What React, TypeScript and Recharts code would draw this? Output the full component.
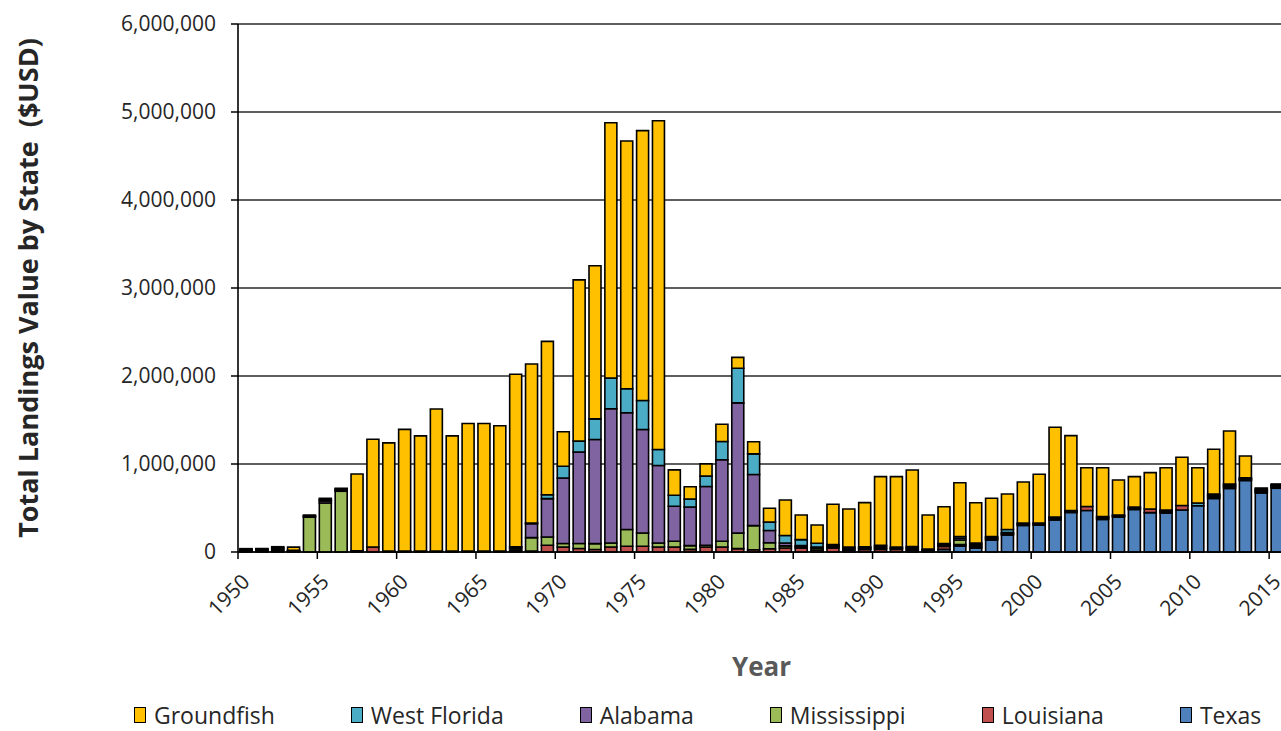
import React from 'react';
import { BarChart, Bar, XAxis, YAxis, CartesianGrid, Legend } from 'recharts';

const years = [
  1950, 1951, 1952, 1953, 1954, 1955, 1956, 1957, 1958, 1959,
  1960, 1961, 1962, 1963, 1964, 1965, 1966, 1967, 1968, 1969,
  1970, 1971, 1972, 1973, 1974, 1975, 1976, 1977, 1978, 1979,
  1980, 1981, 1982, 1983, 1984, 1985, 1986, 1987, 1988, 1989,
  1990, 1991, 1992, 1993, 1994, 1995, 1996, 1997, 1998, 1999,
  2000, 2001, 2002, 2003, 2004, 2005, 2006, 2007, 2008, 2009,
  2010, 2011, 2012, 2013, 2014, 2015,
];

const texas = [
  0, 0, 0, 0, 0, 0, 0, 0, 0, 0,
  0, 0, 0, 0, 0, 0, 0, 0, 0, 0,
  0, 0, 0, 0, 0, 0, 0, 0, 0, 0,
  0, 0, 0, 0, 0, 0, 0, 0, 0, 0,
  0, 0, 0, 0, 30000, 68000, 45000, 136000, 193000, 301000,
  305000, 364000, 449000, 472000, 370000, 398000, 483000, 447000, 443000, 477000,
  525000, 608000, 722000, 812000, 672000, 724000,
];

const louisiana = [
  10000, 10000, 15000, 5000, 0, 0, 0, 10000, 57000, 5000,
  5000, 5000, 5000, 5000, 5000, 5000, 5000, 15000, 10000, 76000,
  57000, 39000, 28000, 57000, 65000, 65000, 57000, 57000, 30000, 57000,
  57000, 38000, 25000, 37000, 45000, 45000, 20000, 45000, 20000, 28000,
  30000, 30000, 20000, 10000, 34000, 17000, 15000, 10000, 10000, 10000,
  9000, 12000, 8000, 45000, 12000, 8000, 10000, 42000, 12000, 51000,
  0, 15000, 15000, 8000, 12000, 10000,
];

const mississippi = [
  10000, 10000, 15000, 5000, 395000, 556000, 690000, 5000, 0, 5000,
  5000, 5000, 5000, 5000, 5000, 5000, 5000, 20000, 153000, 94000,
  39000, 57000, 67000, 45000, 191000, 151000, 45000, 66000, 43000, 20000,
  66000, 177000, 275000, 68000, 25000, 14000, 20000, 15000, 15000, 10000,
  15000, 9000, 15000, 8000, 12000, 51000, 15000, 10000, 9000, 9000,
  8000, 11000, 8000, 0, 11000, 8000, 9000, 0, 11000, 0,
  0, 12000, 12000, 8000, 11000, 10000,
];

const alabama = [
  8000, 8000, 10000, 5000, 10000, 25000, 15000, 0, 0, 0,
  0, 0, 0, 0, 0, 0, 0, 20000, 159000, 436000,
  745000, 1041000, 1183000, 1525000, 1326000, 1176000, 881000, 397000, 439000, 668000,
  925000, 1480000, 580000, 140000, 32000, 14000, 15000, 15000, 12000, 10000,
  15000, 9000, 15000, 8000, 11000, 20000, 14000, 10000, 9000, 9000,
  8000, 11000, 7000, 0, 11000, 7000, 9000, 0, 11000, 0,
  0, 12000, 12000, 8000, 10000, 10000,
];

const westFlorida = [
  5000, 5000, 10000, 5000, 5000, 15000, 10000, 0, 0, 0,
  0, 0, 0, 0, 0, 0, 0, 5000, 7000, 44000,
  134000, 123000, 235000, 350000, 273000, 330000, 182000, 125000, 91000, 117000,
  208000, 393000, 235000, 94000, 85000, 68000, 45000, 10000, 10000, 10000,
  15000, 9000, 13000, 8000, 10000, 20000, 13000, 10000, 34000, 0,
  0, 0, 0, 0, 0, 0, 0, 0, 0, 0,
  32000, 12000, 12000, 7000, 10000, 9000,
];

const groundfish = [
  5000, 5000, 10000, 35000, 10000, 14000, 9000, 871000, 1224000, 1230000,
  1384000, 1310000, 1615000, 1310000, 1450000, 1450000, 1425000, 1960000, 1807000, 1743000,
  392000, 1832000, 1740000, 2901000, 2816000, 3066000, 3736000, 288000, 139000, 139000,
  195000, 124000, 138000, 158000, 404000, 279000, 207000, 457000, 432000, 503000,
  781000, 799000, 869000, 386000, 418000, 611000, 458000, 434000, 404000, 466000,
  553000, 1019000, 850000, 440000, 553000, 397000, 345000, 413000, 480000, 549000,
  400000, 509000, 602000, 248000, 12000, 10000,
];

const yTicks = [0, 1000000, 2000000, 3000000, 4000000, 5000000, 6000000];

const seriesNames = ['Texas', 'Louisiana', 'Mississippi', 'Alabama', 'West Florida', 'Groundfish'];
const seriesColors: Record<string, string> = {
  Texas: '#4F81BD',
  Louisiana: '#C0504D',
  Mississippi: '#9BBB59',
  Alabama: '#8064A2',
  'West Florida': '#4BACC6',
  Groundfish: '#FFC000',
};
const legendOrder = ['Groundfish', 'West Florida', 'Alabama', 'Mississippi', 'Louisiana', 'Texas'];

const data = years.map((y, i) => ({
  year: y,
  Texas: texas[i],
  Louisiana: louisiana[i],
  Mississippi: mississippi[i],
  Alabama: alabama[i],
  'West Florida': westFlorida[i],
  Groundfish: groundfish[i],
}));

const FONT = '"Open Sans", "Noto Sans", sans-serif';
const TEXT = '#262626';

const XTick = (props: any) => {
  const { x, y, payload } = props;
  const yr = Number(payload.value);
  if (yr % 5 !== 0) return <g />;
  const half = payload.offset || 7.93;
  const bx = x - half;
  return (
    <g>
      <line x1={bx} x2={bx} y1={y} y2={y + 7} stroke="#000" strokeWidth={1.5} />
      <text
        transform={`translate(${x + 5},${y + 31}) rotate(-45)`}
        textAnchor="end"
        fontFamily={FONT}
        fontSize={21}
        fill={TEXT}
      >
        {yr}
      </text>
    </g>
  );
};

const LegendContent = () => (
  <div style={{ display: 'flex', alignItems: 'center', fontFamily: FONT, fontSize: 23, lineHeight: '26px', color: TEXT, height: 28 }}>
    {legendOrder.map((k, i) => (
      <div
        key={k}
        style={{ display: 'flex', alignItems: 'center', marginRight: i === legendOrder.length - 1 ? 0 : 76, whiteSpace: 'nowrap' }}
      >
        <span
          style={{
            display: 'inline-block',
            width: 12,
            height: 16,
            background: seriesColors[k],
            border: '1.5px solid #000',
            boxSizing: 'border-box',
            marginRight: 8,
          }}
        />
        <span>{k}</span>
      </div>
    ))}
  </div>
);

export default function App() {
  return (
    <div style={{ position: 'absolute', left: 0, top: 0, width: 1281, height: 731, overflow: 'hidden', background: '#fff' }}>
      <BarChart
        width={1300}
        height={731}
        data={data}
        barSize={12}
        margin={{ top: 24, right: 15, bottom: 59, left: 0 }}
      >
        <CartesianGrid vertical={false} stroke="#2a2a2a" strokeWidth={1.6} />
        <XAxis
          dataKey="year"
          type="category"
          interval={0}
          height={120}
          tickSize={0}
          tickMargin={0}
          tickLine={false}
          axisLine={{ stroke: '#000', strokeWidth: 1.6 }}
          tick={XTick}
          label={{
            value: 'Year',
            position: 'insideTop',
            offset: 106,
            style: { fontFamily: FONT, fontSize: 26, fontWeight: 700, fill: '#595959' },
          }}
        />
        <YAxis
          width={238}
          domain={[0, 6000000]}
          ticks={yTicks}
          interval={0}
          tickSize={7}
          tickMargin={15}
          tickLine={{ stroke: '#000', strokeWidth: 1.5 }}
          axisLine={{ stroke: '#000', strokeWidth: 1.6 }}
          tick={{ fontFamily: FONT, fontSize: 21, fill: TEXT }}
          tickFormatter={(v: number) => v.toLocaleString('en-US')}
          label={{
            value: 'Total Landings Value by State \u00A0($USD)',
            angle: -90,
            position: 'insideLeft',
            offset: 28,
            style: { textAnchor: 'middle', fontFamily: FONT, fontSize: 27, fontWeight: 700, fill: TEXT },
          }}
        />
        <Legend
          layout="horizontal"
          verticalAlign="middle"
          align="center"
          wrapperStyle={{ left: 134, top: 701, width: 1140, height: 28 }}
          content={<LegendContent />}
        />
        {seriesNames.map((name) => (
          <Bar
            key={name}
            dataKey={name}
            stackId="a"
            fill={seriesColors[name]}
            stroke="#000"
            strokeWidth={1.6}
            isAnimationActive={false}
          />
        ))}
      </BarChart>
    </div>
  );
}
